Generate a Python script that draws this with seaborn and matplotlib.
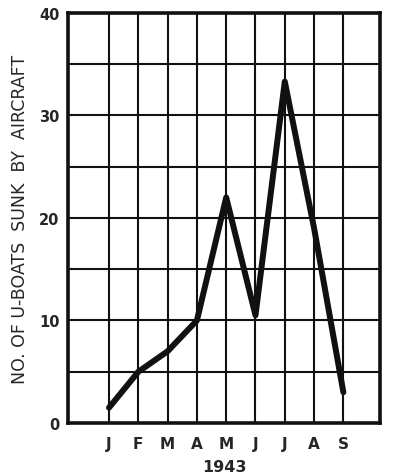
import matplotlib
matplotlib.use("Agg")
import matplotlib.pyplot as plt
import seaborn as sns
import pandas as pd
from matplotlib.ticker import MultipleLocator

months = ["J", "F", "M", "A", "M", "J", "J", "A", "S"]
sunk = [1.5, 5, 7, 10, 22, 10.5, 33.3, 19, 3]

df = pd.DataFrame({"pos": range(len(months)), "sunk": sunk})

sns.set_style("white")
plt.rcParams["font.family"] = ["DejaVu Sans"]

fig = plt.figure(figsize=(4, 4.77), dpi=100)
ax = fig.add_axes([0.17, 0.111, 0.78, 0.86])

sns.lineplot(data=df, x="pos", y="sunk", color="#111111", linewidth=4.3, ax=ax)

ax.set_xlim(-1.4, 9.25)
ax.set_ylim(0, 40)
ax.set_xticks(range(len(months)))
ax.set_xticklabels(months, fontsize=11, fontweight="bold")
ax.yaxis.set_minor_locator(MultipleLocator(5))
ax.set_yticks([0, 10, 20, 30, 40])
ax.set_yticklabels(["0", "10", "20", "30", "40"], fontsize=10.5, fontweight="bold")
ax.grid(True, which="both", color="#111111", linewidth=1.5)
ax.tick_params(axis="both", which="both", length=0)
ax.tick_params(axis="x", pad=9)
ax.tick_params(axis="y", pad=6)

for sp in ax.spines.values():
    sp.set_visible(True)
    sp.set_color("#111111")
    sp.set_linewidth(2.6)

ax.set_xlabel("1943", fontsize=11.5, fontweight="bold", labelpad=6)
ax.set_ylabel("NO. OF U-BOATS  SUNK  BY  AIRCRAFT", fontsize=12.5, labelpad=7)

fig.savefig("out.png", dpi=100)
